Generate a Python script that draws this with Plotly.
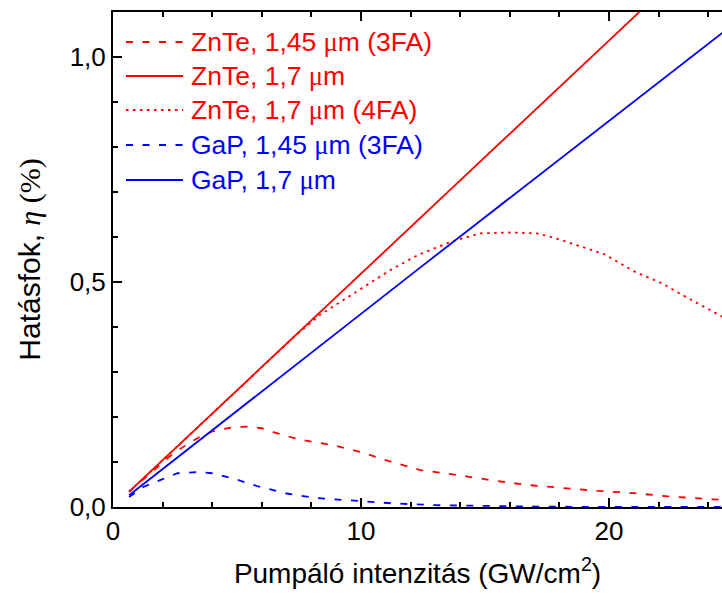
import plotly.graph_objects as go

# Pump intensity (GW/cm^2) and efficiency (%) for each crystal / wavelength case
znte_17_x = [0.65, 2.5, 5.0, 7.5, 10.0, 12.5, 15.0, 17.5, 20.0, 22.5, 25.0]
znte_17_y = [0.034, 0.130, 0.259, 0.389, 0.518, 0.648, 0.777, 0.907, 1.036, 1.166, 1.295]

gap_17_x = [0.65, 2.5, 5.0, 7.5, 10.0, 12.5, 15.0, 17.5, 20.0, 22.5, 25.0]
gap_17_y = [0.026, 0.106, 0.214, 0.322, 0.430, 0.537, 0.644, 0.751, 0.858, 0.965, 1.072]

znte_145_3fa_x = [0.65, 1.5, 2.3, 3.0, 3.5, 4.0, 4.8, 5.5, 6.0, 6.5, 7.5, 8.9, 10.0, 11.0,
                  12.4, 13.9, 15.2, 16.7, 18.1, 19.5, 21.0, 22.3, 24.2, 25.0]
znte_145_3fa_y = [0.034, 0.075, 0.113, 0.140, 0.156, 0.168, 0.177, 0.179, 0.175, 0.166, 0.150,
                  0.137, 0.122, 0.104, 0.082, 0.071, 0.060, 0.049, 0.042, 0.036, 0.031, 0.024,
                  0.017, 0.015]

gap_145_3fa_x = [0.65, 1.2, 2.0, 2.6, 3.5, 4.0, 4.8, 5.9, 7.0, 8.2, 10.0, 11.3, 13.0, 15.0,
                 17.0, 20.0, 25.0]
gap_145_3fa_y = [0.022, 0.044, 0.062, 0.075, 0.078, 0.075, 0.064, 0.045, 0.030, 0.020, 0.013,
                 0.008, 0.004, 0.002, 0.001, 0.000, 0.000]

znte_17_4fa_x = [0.65, 2.5, 5.0, 7.3, 8.35, 9.4, 10.4, 11.2, 12.3, 13.1, 13.6, 14.8, 16.0,
                 17.1, 17.8, 18.7, 19.8, 21.0, 22.1, 23.1, 24.4, 25.0]
znte_17_4fa_y = [0.034, 0.130, 0.259, 0.378, 0.427, 0.464, 0.500, 0.527, 0.560, 0.578, 0.589,
                 0.608, 0.610, 0.608, 0.598, 0.582, 0.562, 0.524, 0.498, 0.467, 0.429, 0.410]

FONT = "Liberation Sans, Arial, sans-serif"
SERIF_STYLE = 'style="font-family:Liberation Serif"'
MU = f"<span {SERIF_STYLE}>μ</span>"

legend_labels = [f"ZnTe, 1,45 {MU}m (3FA)", f"ZnTe, 1,7 {MU}m", f"ZnTe, 1,7 {MU}m (4FA)",
                 f"GaP, 1,45 {MU}m (3FA)", f"GaP, 1,7 {MU}m"]
trace_names = ["ZnTe, 1,45 μm (3FA)", "ZnTe, 1,7 μm", "ZnTe, 1,7 μm (4FA)",
               "GaP, 1,45 μm (3FA)", "GaP, 1,7 μm"]

RED = "#ff0000"
BLUE = "#0000ff"
DASH = "7px,9.5px"
DOT = "2.5px,4.5px"

W, H = 722, 594
L, R, T, B = 113, 0, 12, 87

series = [
    (znte_145_3fa_x, znte_145_3fa_y, RED, DASH),
    (znte_17_x, znte_17_y, RED, "solid"),
    (znte_17_4fa_x, znte_17_4fa_y, RED, DOT),
    (gap_145_3fa_x, gap_145_3fa_y, BLUE, DASH),
    (gap_17_x, gap_17_y, BLUE, "solid"),
]

fig = go.Figure()
for name, (xs, ys, color, dash) in zip(trace_names, series):
    fig.add_trace(go.Scatter(x=xs, y=ys, mode="lines", name=name, showlegend=False,
                             line=dict(color=color, width=1.8, dash=dash)))


def px_to_paper_x(px):
    return (px - L) / (W - L - R)


def px_to_paper_y(py):
    return (H - B - py) / (H - T - B)


# Hand-placed legend block in the upper-left corner
legend_rows = [42, 76, 110, 145, 180]
for label, (_, _, color, dash), row in zip(legend_labels, series, legend_rows):
    fig.add_shape(type="line", xref="paper", yref="paper",
                  x0=px_to_paper_x(126), x1=px_to_paper_x(183),
                  y0=px_to_paper_y(row), y1=px_to_paper_y(row),
                  line=dict(color=color, width=1.8, dash=dash))
    fig.add_annotation(xref="paper", yref="paper", x=px_to_paper_x(189), y=px_to_paper_y(row),
                       text=label, showarrow=False, xanchor="left", yanchor="middle",
                       font=dict(family=FONT, size=26.5, color=color))

axis_common = dict(
    showline=True, linecolor="black", linewidth=2,
    ticks="inside", tickcolor="black", tickwidth=1.5, ticklen=9,
    showgrid=False, zeroline=False,
    tickfont=dict(family=FONT, size=26, color="black"),
)

fig.update_xaxes(
    range=[0, 24.56], dtick=10, tick0=0, mirror="ticks",
    minor=dict(dtick=2, ticks="inside", ticklen=5, tickwidth=1.5, tickcolor="black"),
    title=dict(text="Pumpáló intenzitás (GW/cm<sup>2</sup>)",
               font=dict(family=FONT, size=28, color="black"), standoff=18),
    **axis_common,
)
fig.update_yaxes(
    range=[0, 1.10], dtick=0.5, tick0=0, tickformat=".1f",
    minor=dict(dtick=0.1, ticks="inside", ticklen=5, tickwidth=1.5, tickcolor="black"),
    title=dict(text=f"Hatásfok, <span {SERIF_STYLE}><i>η</i> (%)</span>",
               font=dict(family=FONT, size=30, color="black"), standoff=20),
    **axis_common,
)

fig.update_layout(
    width=W, height=H,
    margin=dict(l=L, r=R, t=T, b=B),
    paper_bgcolor="white", plot_bgcolor="white",
    separators=", ",
    font=dict(family=FONT, color="black"),
)

fig.write_html("out.html")
